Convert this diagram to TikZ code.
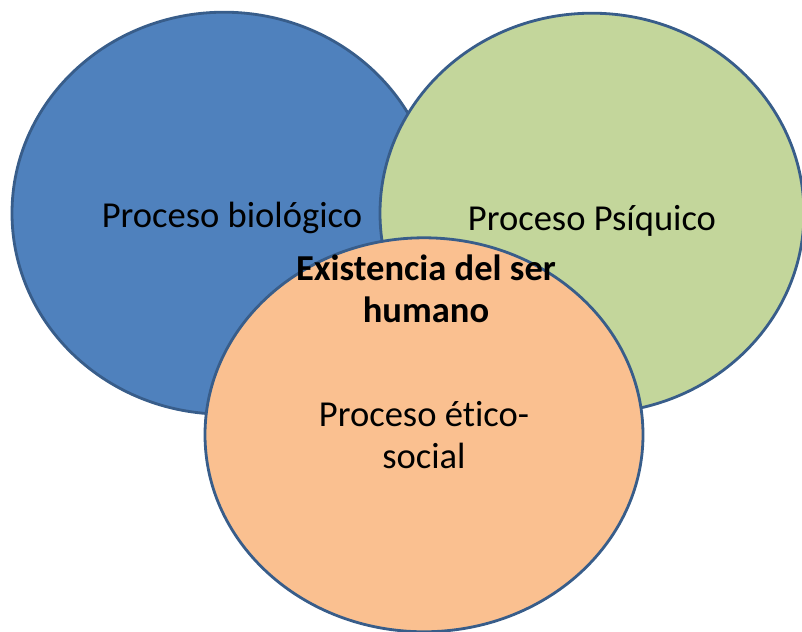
\documentclass[tikz,border=0pt]{standalone}
\usepackage{fontspec}
\setmainfont{Carlito}[Ligatures=NoCommon]
\usepackage{tikz}
\usetikzlibrary{shapes.geometric}
\definecolor{procblue}{HTML}{4F81BD}
\definecolor{procgreen}{HTML}{C3D69B}
\definecolor{procorange}{HTML}{FAC090}
\definecolor{procline}{HTML}{385D8A}
\begin{document}
\begin{tikzpicture}[proc/.style={ellipse, draw=procline, line width=2pt, inner sep=0pt, align=center, font=\fontsize{26}{30}\selectfont}]
        \useasboundingbox (0, 0) rectangle (20.05, 15.8);
        \node[proc, fill=procblue, minimum width=10.6cm, minimum height=10.05cm] (bio) at (5.6, 10.47) {\hspace*{0.4cm}\raisebox{-0.36cm}[0pt][0pt]{Proceso biológico}};
        \node[proc, fill=procgreen, minimum width=10.6cm, minimum height=10cm] (psi) at (14.8, 10.47) {\raisebox{-0.43cm}[0pt][0pt]{Proceso Psíquico}};
        \node[proc, fill=procorange, minimum width=10.95cm, minimum height=9.85cm] (etico) at (10.6, 4.93) {Proceso ético-\\social};
        \node[align=center, font=\fontsize{26}{30}\selectfont\bfseries] (ser) at (10.65, 8.57) {Existencia del ser\\humano};
      \end{tikzpicture}
\end{document}
